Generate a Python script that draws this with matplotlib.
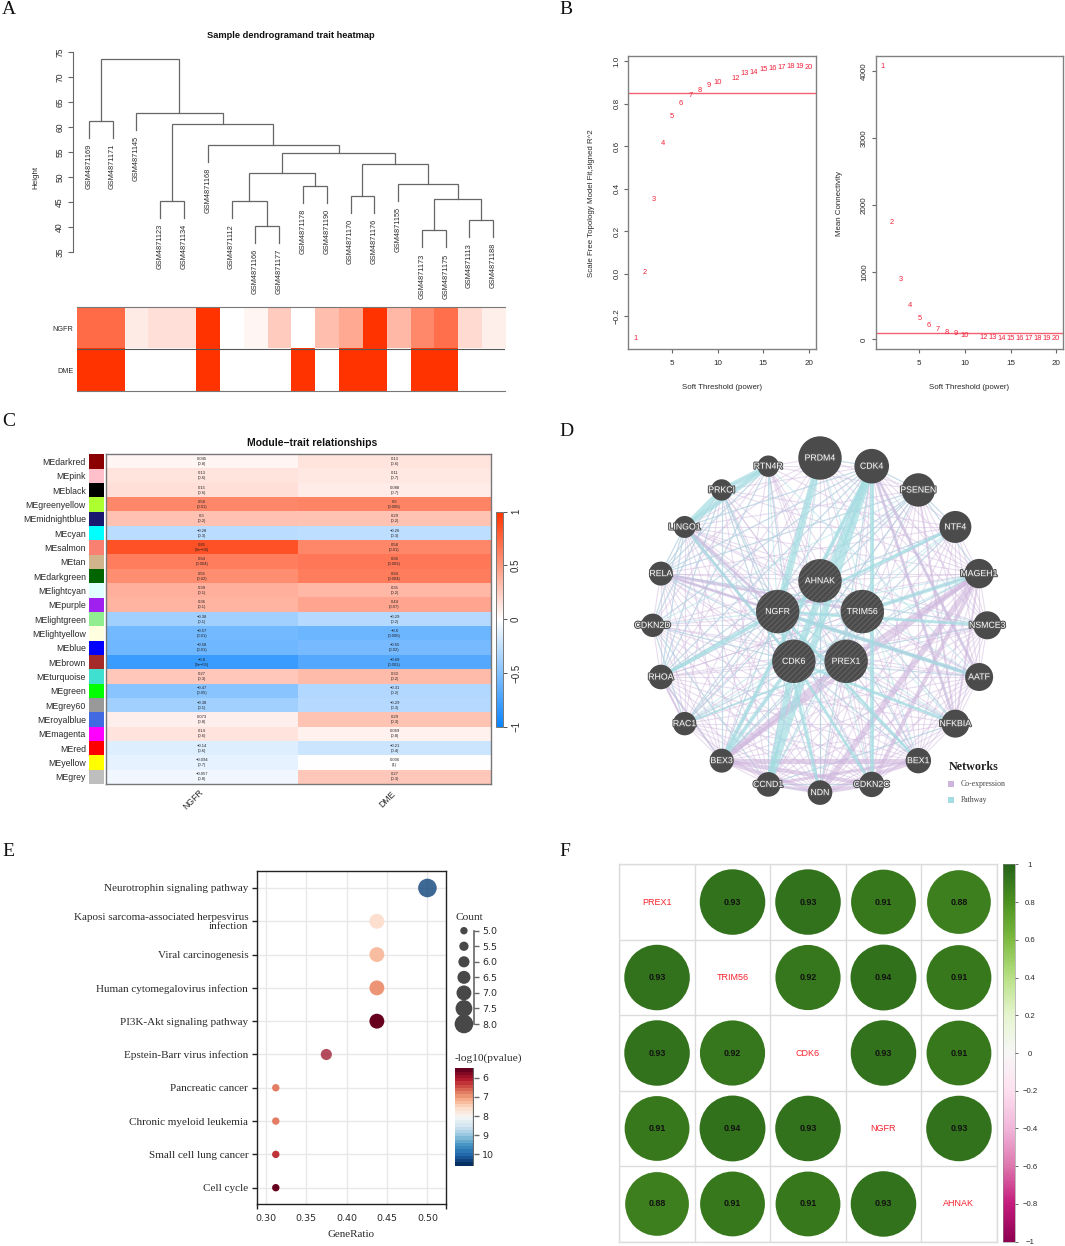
import numpy as np
import matplotlib
matplotlib.use("Agg")
import matplotlib.pyplot as plt
import matplotlib.patheffects as pe
from matplotlib.colors import LinearSegmentedColormap, Normalize
from matplotlib.cm import ScalarMappable
from matplotlib.patches import Circle

plt.rcParams['font.family'] = ['Liberation Sans', 'DejaVu Sans']
plt.rcParams['hatch.linewidth'] = 0.6

W, H = 1065, 1246
SERIF = 'Liberation Serif'
DARK = '#2a2a2a'

# --- A: dendrogram
leaf_names = ["GSM4871169", "GSM4871171", "GSM4871145", "GSM4871123", "GSM4871134", "GSM4871168",
              "GSM4871112", "GSM4871166", "GSM4871177", "GSM4871178", "GSM4871190", "GSM4871170",
              "GSM4871176", "GSM4871155", "GSM4871173", "GSM4871175", "GSM4871113", "GSM4871188"]
# ids below 18 are leaves, 18 and up are earlier merges
merge_left = [0, 3, 7, 6, 9, 21, 11, 14, 16, 25, 13, 24, 23, 5, 19, 2, 18]
merge_right = [1, 4, 8, 20, 10, 22, 12, 15, 17, 26, 27, 28, 29, 30, 31, 32, 33]
merge_height = [61.3, 45.3, 40.3, 45.3, 48.3, 50.9, 46.3, 39.4, 41.5, 45.7, 48.7, 52.7, 54.9, 56.5, 60.6, 62.9, 73.5]
leaf_hang = 3.4
trait_names = ["NGFR", "DME"]
ngfr_trait = [0.72, 0.72, 0.10, 0.16, 0.16, 1.0, 0.0, 0.05, 0.25, 0.0, 0.32, 0.42, 1.0, 0.35, 0.58, 0.70, 0.18, 0.08]
dme_trait = [1, 1, 0, 0, 0, 1, 0, 0, 0, 1, 0, 1, 1, 0, 1, 1, 0, 0]

# --- B: soft threshold
powers = [1, 2, 3, 4, 5, 6, 7, 8, 9, 10, 12, 13, 14, 15, 16, 17, 18, 19, 20]
fit_r2 = [-0.307, 0.006, 0.35, 0.61, 0.738, 0.80, 0.837, 0.86, 0.887, 0.898, 0.92, 0.94, 0.948, 0.959, 0.965, 0.97, 0.973, 0.975, 0.97]
mean_conn = [4070, 1741, 895, 512, 318, 209, 144, 104, 80, 55, 30, 25, 15, 15, 15, 10, 10, 10, 5]
fit_cut = 0.85
conn_cut = 100

# --- C: module-trait
module_names = ["MEdarkred", "MEpink", "MEblack", "MEgreenyellow", "MEmidnightblue", "MEcyan", "MEsalmon", "MEtan",
                "MEdarkgreen", "MElightcyan", "MEpurple", "MElightgreen", "MElightyellow", "MEblue", "MEbrown",
                "MEturquoise", "MEgreen", "MEgrey60", "MEroyalblue", "MEmagenta", "MEred", "MEyellow", "MEgrey"]
module_colors = ["#8b0000", "#ffc0cb", "#000000", "#adff2f", "#191970", "#00ffff", "#fa8072", "#d2b48c",
                 "#006400", "#e0ffff", "#a020f0", "#90ee90", "#ffffe0", "#0000ff", "#a52a2a",
                 "#40e0d0", "#00ff00", "#999999", "#4169e1", "#ff00ff", "#ff0000", "#ffff00", "#bebebe"]
ngfr_cor = [0.045, 0.13, 0.15, 0.58, 0.3, -0.28, 0.85, 0.64, 0.55, 0.39, 0.36, -0.38, -0.57, -0.58, -0.8,
            0.27, -0.47, -0.38, 0.073, 0.14, -0.14, -0.094, -0.057]
ngfr_p = ["0.8", "0.6", "0.6", "0.01", "0.2", "0.3", "9e-06", "0.004", "0.02", "0.1", "0.1", "0.1", "0.01", "0.01", "9e-05",
          "0.3", "0.05", "0.1", "0.8", "0.6", "0.6", "0.7", "0.8"]
dme_cor = [0.13, 0.11, 0.088, 0.6, 0.29, -0.26, 0.58, 0.66, 0.64, 0.35, 0.44, -0.29, -0.6, -0.55, -0.69,
           0.33, -0.31, -0.29, 0.29, 0.069, -0.21, 0.006, 0.27]
dme_p = ["0.6", "0.7", "0.7", "0.006", "0.2", "0.3", "0.01", "0.003", "0.004", "0.2", "0.07", "0.2", "0.006", "0.02", "0.002",
         "0.2", "0.2", "0.3", "0.3", "0.8", "0.4", "1", "0.3"]

# --- D: network, both rings clockwise from the top
outer_nodes = ["PRDM4", "CDK4", "PSENEN", "NTF4", "MAGEH1", "NSMCE3", "AATF", "NFKBIA", "BEX1", "CDKN2C",
               "NDN", "CCND1", "BEX3", "RAC1", "RHOA", "CDKN2D", "RELA", "LINGO1", "PRKCI", "RTN4R"]
outer_score = [21.7, 17.3, 16.7, 16, 14.7, 14, 14, 14, 12.7, 12.7, 12.3, 12.3, 12, 11.7, 12.3, 11.7, 12, 11, 10.7, 10.7]
inner_nodes = ["AHNAK", "TRIM56", "PREX1", "CDK6", "NGFR"]
inner_score = [21.7, 21.7, 21.7, 21.7, 21.7]
coexp_thin = {
    "PRDM4": "RTN4R CDK4 PSENEN MAGEH1 NFKBIA BEX3 RELA RHOA NDN AATF TRIM56 LINGO1 CDKN2C CCND1 NSMCE3 RAC1",
    "CDK4": "RTN4R PRKCI PSENEN NTF4 MAGEH1 NSMCE3 BEX1 NDN BEX3 RAC1 RELA CDKN2D AHNAK TRIM56 RHOA LINGO1 PREX1",
    "PSENEN": "MAGEH1 NSMCE3 AATF BEX1 CDKN2C NGFR RELA RHOA LINGO1 RTN4R BEX3 NDN NTF4 CCND1 RAC1 CDK6 PREX1",
    "NTF4": "MAGEH1 AATF NFKBIA RELA LINGO1 RHOA BEX3 NDN NSMCE3 BEX1 CDKN2C CCND1 PRKCI AHNAK",
    "MAGEH1": "NSMCE3 AATF BEX1 RELA RHOA CDKN2D CCND1 RAC1 TRIM56 AHNAK LINGO1 PRKCI RTN4R",
    "NSMCE3": "AATF NFKBIA BEX1 NDN BEX3 RELA CDKN2D RHOA CDKN2C CCND1 RAC1 LINGO1 PREX1 CDK6",
    "AATF": "NFKBIA BEX1 CDKN2C RELA CDKN2D RHOA RAC1 BEX3 CDK6 NDN CCND1 TRIM56 PREX1 LINGO1",
    "NFKBIA": "BEX1 CDKN2C RELA CDKN2D RHOA NDN BEX3 LINGO1 CCND1 RAC1 PREX1 TRIM56",
    "BEX1": "RAC1 RHOA CDKN2D RELA LINGO1 PRKCI RTN4R CDK6 PREX1 AHNAK TRIM56",
    "CDKN2C": "RAC1 RHOA CDKN2D RELA PRKCI TRIM56 NGFR CCND1 LINGO1 RTN4R PREX1",
    "NDN": "RAC1 RHOA CDKN2D RELA LINGO1 PREX1 AHNAK PRKCI RTN4R TRIM56",
    "CCND1": "RHOA RAC1 CDKN2D RELA LINGO1 RTN4R PREX1 BEX3 PRKCI AHNAK",
    "BEX3": "RAC1 CDKN2D RELA LINGO1 PRKCI NGFR AHNAK TRIM56 RTN4R",
    "RAC1": "RHOA CDKN2D RELA LINGO1 PRKCI TRIM56 PREX1 AHNAK NGFR",
    "RHOA": "CDKN2D RELA LINGO1 RTN4R TRIM56 PREX1 PRKCI AHNAK CDK6",
    "CDKN2D": "RELA LINGO1 PRKCI RTN4R TRIM56 PREX1 AHNAK CDK6",
    "RELA": "LINGO1 PRKCI RTN4R CDK6 PREX1 AHNAK",
    "LINGO1": "RTN4R AHNAK TRIM56 PREX1",
    "PRKCI": "RTN4R TRIM56 NGFR CDK6 PREX1",
    "RTN4R": "AHNAK TRIM56 CDK6 PREX1",
}
pathway_thin = {
    "RTN4R": "CDK6 NGFR CCND1 RELA RHOA AATF",
    "PRKCI": "NDN CDK6 RELA BEX3 NGFR RHOA CDKN2D",
    "LINGO1": "RHOA RELA CDKN2D NGFR CDK4 BEX1",
    "RELA": "NFKBIA CDK4 NGFR TRIM56 PSENEN NSMCE3",
    "CDKN2D": "CDK4 CCND1 NGFR CDK6 PSENEN RAC1",
    "RHOA": "CDK4 NTF4 NGFR PSENEN BEX3 AHNAK",
    "RAC1": "CDK4 CDK6 NGFR NTF4 PSENEN MAGEH1",
    "BEX3": "CDK4 NGFR TRIM56 NTF4",
    "CCND1": "NDN TRIM56 PSENEN NFKBIA AHNAK",
    "NDN": "CDK4 CDK6 NGFR AHNAK",
    "CDKN2C": "CDK4 CDK6 CCND1 NGFR AHNAK",
    "BEX1": "NGFR PRDM4 CDK6 AHNAK",
    "NFKBIA": "NGFR CDK4 CDK6 TRIM56 AHNAK",
    "AATF": "NGFR CDK4 AHNAK CDK6",
    "NSMCE3": "NGFR AHNAK CDK6",
    "MAGEH1": "CDK6 NGFR PSENEN",
    "NTF4": "NGFR CDK6 PSENEN AHNAK",
    "PSENEN": "CDK4 NGFR CDK6",
    "PRDM4": "CDK6 CDK4 NGFR",
}
coexp_thick = [("MAGEH1", "NDN", 6), ("MAGEH1", "CDKN2C", 4), ("MAGEH1", "BEX3", 4), ("MAGEH1", "PREX1", 5),
               ("PREX1", "BEX3", 6), ("BEX3", "BEX1", 5), ("BEX3", "CDKN2C", 4), ("BEX3", "NDN", 4),
               ("BEX1", "CCND1", 3), ("BEX1", "NDN", 4), ("CCND1", "NDN", 3), ("NDN", "CDKN2C", 4),
               ("CDK4", "AATF", 3), ("CDK4", "NFKBIA", 3), ("PSENEN", "NFKBIA", 2), ("MAGEH1", "NFKBIA", 2),
               ("NGFR", "AATF", 3), ("RELA", "NGFR", 3), ("RELA", "TRIM56", 3), ("LINGO1", "NGFR", 3),
               ("LINGO1", "CDK6", 2), ("RHOA", "BEX3", 2), ("RAC1", "RHOA", 2)]
pathway_thick = [("CDK4", "CCND1", 7), ("CDK4", "CDK6", 7), ("CCND1", "CDK6", 6), ("RTN4R", "LINGO1", 5),
                 ("RTN4R", "PRKCI", 5), ("LINGO1", "PRKCI", 5), ("PRDM4", "NGFR", 7), ("NTF4", "NGFR", 3),
                 ("CDK4", "CDKN2C", 4), ("CDKN2C", "CDK6", 3), ("TRIM56", "MAGEH1", 4), ("NSMCE3", "NGFR", 3),
                 ("AATF", "NGFR", 4), ("BEX1", "NGFR", 3), ("RHOA", "NGFR", 4), ("LINGO1", "CDK6", 3),
                 ("BEX3", "CDK6", 4), ("NDN", "NGFR", 3), ("BEX3", "CDK4", 4), ("RAC1", "PREX1", 2),
                 ("NFKBIA", "CDK6", 3)]

# --- E: enrichment
pathways = ["Neurotrophin signaling pathway", "Kaposi sarcoma-associated herpesvirus\ninfection", "Viral carcinogenesis",
            "Human cytomegalovirus infection", "PI3K-Akt signaling pathway", "Epstein-Barr virus infection",
            "Pancreatic cancer", "Chronic myeloid leukemia", "Small cell lung cancer", "Cell cycle"]
gene_ratio = [0.5, 0.4375, 0.4375, 0.4375, 0.4375, 0.375, 0.3125, 0.3125, 0.3125, 0.3125]
gene_count = [8, 7, 7, 7, 7, 6, 5, 5, 5, 5]
neg_log_p = [10.4, 7.6, 7.35, 7.0, 5.55, 6.0, 6.7, 6.7, 6.3, 5.55]
dot_alpha = [0.8, 1, 1, 1, 1, 0.75, 1, 1, 1, 1]
count_ticks = [5.0, 5.5, 6.0, 6.5, 7.0, 7.5, 8.0]

# --- F: correlation
corr_genes = ["PREX1", "TRIM56", "CDK6", "NGFR", "AHNAK"]
corr_values = [[1.00, 0.93, 0.93, 0.91, 0.88],
               [0.93, 1.00, 0.92, 0.94, 0.91],
               [0.93, 0.92, 1.00, 0.93, 0.91],
               [0.91, 0.94, 0.93, 1.00, 0.93],
               [0.88, 0.91, 0.91, 0.93, 1.00]]

fig = plt.figure(figsize=(W / 100, H / 100), dpi=100)


def px_axes(x0, y0, x1, y1):
    return fig.add_axes([x0 / W, 1 - y1 / H, (x1 - x0) / W, (y1 - y0) / H])


def ftext(x, y, s, **kw):
    kw.setdefault('ha', 'center')
    kw.setdefault('va', 'center')
    return fig.text(x / W, 1 - y / H, s, **kw)


def label_at(axis, x, y):
    axis.set_label_coords(x / W, 1 - y / H, transform=fig.transFigure)


for letter, x, y in [("A", 2, 9), ("B", 559, 9), ("C", 2, 421), ("D", 559, 431), ("E", 2, 851), ("F", 559, 851)]:
    ftext(x, y, letter, ha='left', family=SERIF, fontsize=14, color='#111111')

# ---------- A
ax = px_axes(76.8, 52, 505.2, 252)
n_leaf = len(leaf_names)
xpos = {i: i + 0.5 for i in range(n_leaf)}
ypos = {}
for m, (l, r, h) in enumerate(zip(merge_left, merge_right, merge_height)):
    yl = ypos[l] if l >= n_leaf else h - leaf_hang
    yr = ypos[r] if r >= n_leaf else h - leaf_hang
    ax.plot([xpos[l], xpos[l], xpos[r], xpos[r]], [yl, h, h, yr], color='#666666', lw=0.9,
            solid_joinstyle='miter', clip_on=False)
    for c, yc in ((l, yl), (r, yr)):
        if c < n_leaf:
            ax.text(xpos[c], yc - 1.3, leaf_names[c], rotation=90, ha='center', va='top', fontsize=5.3, color=DARK)
    xpos[n_leaf + m] = (xpos[l] + xpos[r]) / 2
    ypos[n_leaf + m] = h
ax.set_xlim(0, n_leaf)
ax.set_ylim(35, 75)
for s in ['top', 'right', 'bottom']:
    ax.spines[s].set_visible(False)
ax.spines['left'].set_position(('outward', 3))
ax.spines['left'].set_color('#666666')
ax.set_xticks([])
ax.set_yticks(range(35, 80, 5))
ax.tick_params(axis='y', labelsize=6.2, length=3.6, width=0.8, color='#666666', labelcolor=DARK, pad=2.5)
for t in ax.get_yticklabels():
    t.set_rotation(90)
    t.set_va('center')
ax.set_ylabel("Height", fontsize=5.8, color=DARK)
label_at(ax.yaxis, 39.6, 177)
ftext(291, 36, "Sample dendrogramand trait heatmap", fontsize=6.7, fontweight='bold', color='#111111')

trait_cmap = LinearSegmentedColormap.from_list("trait", ["#ffffff", "#ff3300"])
ax = px_axes(76.8, 307.3, 505.2, 391.3)
ax.imshow([ngfr_trait, dme_trait], aspect='auto', cmap=trait_cmap, vmin=0, vmax=1, interpolation='nearest')
ax.axhline(0.5, color='#555555', lw=0.8)
ax.set_xticks([])
ax.set_yticks(range(2))
ax.set_yticklabels(trait_names)
ax.tick_params(axis='y', length=0, labelsize=5.2, labelcolor=DARK, pad=2.5)
for s in ['left', 'right']:
    ax.spines[s].set_visible(False)
for s in ['top', 'bottom']:
    ax.spines[s].set_color('#777777')
    ax.spines[s].set_linewidth(0.8)

# ---------- B
RED = '#f0203a'
bbox_b = [(628.3, 55.7, 816, 349.3), (875.7, 55.7, 1063.3, 349.3)]
series_b = [fit_r2, mean_conn]
ylims_b = [(-0.356, 1.025), (-149, 4234)]
cuts_b = [fit_cut, conn_cut]
yticks_b = [[-0.2, 0.0, 0.2, 0.4, 0.6, 0.8, 1.0], [0, 1000, 2000, 3000, 4000]]
ylabels_b = ["Scale Free Topology Model Fit,signed R^2", "Mean Connectivity"]
ylab_x = [595, 842.7]
xlab_x = [722.3, 969.3]
for k in range(2):
    ax = px_axes(*bbox_b[k])
    for p, v in zip(powers, series_b[k]):
        ax.text(p, v, str(p), color=RED, fontsize=5.4, ha='center', va='center')
    ax.axhline(cuts_b[k], color='#f4606e', lw=1.0)
    ax.set_xlim(0.22, 20.77)
    ax.set_ylim(*ylims_b[k])
    ax.set_xticks([5, 10, 15, 20])
    ax.set_yticks(yticks_b[k])
    ax.tick_params(axis='both', labelsize=5.8, length=3, width=0.8, color='#666666', labelcolor=DARK)
    ax.tick_params(axis='x', pad=4.5)
    ax.tick_params(axis='y', pad=2.5)
    for t in ax.get_yticklabels():
        t.set_rotation(90)
        t.set_va('center')
    for s in ax.spines.values():
        s.set_color('#808080')
        s.set_linewidth(1.0)
    ax.set_xlabel("Soft Threshold (power)", fontsize=5.7, color=DARK)
    ax.set_ylabel(ylabels_b[k], fontsize=5.7, color=DARK)
    label_at(ax.xaxis, xlab_x[k], 383.7)
    label_at(ax.yaxis, ylab_x[k], 203)

# ---------- C
cor_cmap = LinearSegmentedColormap.from_list("cor", ["#0a84ff", "#ffffff", "#ff3300"])
ax = px_axes(106, 454.3, 490.7, 784)
cor = np.array([ngfr_cor, dme_cor]).T
im = ax.imshow(cor, aspect='auto', cmap=cor_cmap, vmin=-1, vmax=1, interpolation='nearest')
for i in range(len(module_names)):
    for j, (cc, pp) in enumerate(((ngfr_cor, ngfr_p), (dme_cor, dme_p))):
        s = f"{cc[i]}\n({pp[i]})".replace("-", "\u2212")
        ax.text(j, i, s, ha='center', va='center', fontsize=3.0, color='#222222', linespacing=1.25)
ax.set_xticks([])
ax.set_yticks([])
for s in ax.spines.values():
    s.set_color('#777777')
    s.set_linewidth(1.0)
ftext(193, 800, "NGFR", rotation=45, fontsize=6.2, color=DARK)
ftext(387, 799, "DME", rotation=45, fontsize=6.2, color=DARK)
ftext(312, 443.5, "Module\u2212trait relationships", fontsize=7.5, fontweight='bold', color='#111111')

ax = px_axes(88.7, 454.3, 104, 784)
ax.barh(range(len(module_names)), 1, height=1, color=module_colors)
ax.set_xlim(0, 1)
ax.set_ylim(len(module_names) - 0.5, -0.5)
ax.set_xticks([])
ax.set_yticks(range(len(module_names)))
ax.set_yticklabels(module_names)
ax.tick_params(axis='y', length=0, labelsize=6.3, labelcolor=DARK, pad=2)
for s in ax.spines.values():
    s.set_visible(False)

cax = px_axes(495.7, 511.7, 502.7, 726.7)
cb = fig.colorbar(im, cax=cax, ticks=[-1, -0.5, 0, 0.5, 1])
cb.outline.set_edgecolor('#777777')
cb.outline.set_linewidth(0.7)
cax.set_yticklabels(["\u22121", "\u22120.5", "0", "0.5", "1"])
cax.tick_params(labelsize=7, length=3, width=0.7, color='#555555', labelcolor=DARK, pad=3)
for t in cax.get_yticklabels():
    t.set_rotation(90)
    t.set_va('center')

# ---------- D
ax = px_axes(630, 430, 1045, 830)
cx, cy = 820, 625.3
ax.set_xlim(630 - cx, 1045 - cx)
ax.set_ylim(cy - 830, cy - 430)
ax.axis('off')
node_xy = {}
for names, radius in ((outer_nodes, 167.3), (inner_nodes, 44.5)):
    for i, name in enumerate(names):
        a = 2 * np.pi * i / len(names)
        node_xy[name] = (radius * np.sin(a), radius * np.cos(a))
PURPLE = '#cdb4dc'
TEAL = '#a3dde2'


def edge(a, b, color, width, alpha):
    ax.plot([node_xy[a][0], node_xy[b][0]], [node_xy[a][1], node_xy[b][1]], color=color, lw=width,
            alpha=alpha, solid_capstyle='butt', zorder=1)


for a, others in coexp_thin.items():
    for b in others.split():
        edge(a, b, PURPLE, 0.8, 0.45)
for a, others in pathway_thin.items():
    for b in others.split():
        edge(a, b, TEAL, 0.8, 0.5)
for a, b, w in coexp_thick:
    edge(a, b, PURPLE, w * 0.72, 0.6)
for a, b, w in pathway_thick:
    edge(a, b, TEAL, w * 0.72, 0.7)
halo = [pe.withStroke(linewidth=1.6, foreground='#555555')]
for names, sizes, hatch in ((outer_nodes, outer_score, None), (inner_nodes, inner_score, '//////')):
    for name, r in zip(names, sizes):
        ax.add_patch(Circle(node_xy[name], r, facecolor='#4b4b4b', edgecolor='#686868' if hatch else '#4b4b4b',
                            hatch=hatch, lw=0, zorder=3))
        ax.text(*node_xy[name], name, color='white', fontsize=6.3, ha='center', va='center', zorder=4,
                path_effects=halo)
ftext(974, 767, "Networks", family=SERIF, fontweight='bold', fontsize=8.7, color='#222222')
for label, color, y in (("Co-expression", PURPLE, 783.7), ("Pathway", TEAL, 800.3)):
    ax.scatter([950.7 - cx], [cy - y], marker='s', s=17, color=color, lw=0, zorder=5)
    ftext(960.7, y, label, ha='left', family=SERIF, fontsize=5.6, color='#444444')

# ---------- E
rd_bu = plt.get_cmap('RdBu', 30)
p_norm = Normalize(5.5, 10.6)
LEG_FONT = 'DejaVu Sans'


def dot_area(c):
    # radius grows linearly from 3.7 px at 5 to 9.3 px at 8
    r = 3.7 + (np.asarray(c, dtype=float) - 5) * 1.87
    return (2 * r * 0.72) ** 2


ax = px_axes(256.7, 871, 445.7, 1204)
ys = list(range(len(pathways)))
ax.scatter(gene_ratio, ys, s=dot_area(gene_count), c=neg_log_p, cmap=rd_bu, norm=p_norm, alpha=dot_alpha, lw=0, zorder=3)
ax.set_xlim(0.2889, 0.5226)
ax.set_ylim(len(pathways) - 1 + 0.49, -0.51)
ax.set_yticks(ys)
ax.set_yticklabels(pathways, family=SERIF, linespacing=0.95)
ax.set_xticks([0.30, 0.35, 0.40, 0.45, 0.50])
ax.set_xticklabels(["0.30", "0.35", "0.40", "0.45", "0.50"], family=LEG_FONT)
ax.set_xticks([0.2889, 0.5226], minor=True)
ax.grid(True, color='#e8e8e8', lw=1.0, zorder=0)
ax.set_axisbelow(True)
ax.tick_params(axis='y', labelsize=8.0, length=3.7, width=1, color='#222222', labelcolor=DARK, pad=2.4)
ax.tick_params(axis='x', which='major', labelsize=6.8, length=0, labelcolor=DARK, pad=7.5)
ax.tick_params(axis='x', which='minor', length=3.8, width=1, color='#222222')
for s in ax.spines.values():
    s.set_color('#222222')
    s.set_linewidth(1.0)
ax.set_xlabel("GeneRatio", family=SERIF, fontsize=7.9, color=DARK)
label_at(ax.xaxis, 350.7, 1230)

ax = px_axes(455, 930.7, 474, 1024)
ax.scatter([0.47] * len(count_ticks), count_ticks, s=dot_area(count_ticks), color='#484848', lw=0, clip_on=False, zorder=3)
ax.set_xlim(0, 1)
ax.set_ylim(8, 5)
ax.set_xticks([])
ax.yaxis.tick_right()
ax.set_yticks(count_ticks)
ax.set_yticklabels([f"{c:.1f}" for c in count_ticks], family=LEG_FONT)
ax.tick_params(axis='y', labelsize=6.8, length=3.8, width=1, color='#666666', labelcolor=DARK, pad=2)
for s in ['left', 'top', 'bottom']:
    ax.spines[s].set_visible(False)
ax.spines['right'].set_color('#666666')
ax.spines['right'].set_linewidth(1.2)
ftext(455, 917.5, "Count", ha='left', family=SERIF, fontsize=8.2, color=DARK)

cax = px_axes(455, 1068.3, 474, 1165.7)
cb = fig.colorbar(ScalarMappable(norm=p_norm, cmap=rd_bu), cax=cax, ticks=[6, 7, 8, 9, 10])
cax.invert_yaxis()
cb.outline.set_visible(False)
cax.axvline(cax.get_xlim()[1], color='#666666', lw=1.6)
cax.set_yticklabels(["6", "7", "8", "9", "10"], family=LEG_FONT)
cax.tick_params(labelsize=6.8, length=3.8, width=1, color='#666666', labelcolor=DARK, pad=2)
ftext(455, 1058.3, "-log10(pvalue)", ha='left', family=SERIF, fontsize=8.2, color=DARK)

# ---------- F
ax = px_axes(619.3, 864.3, 996.7, 1241.7)
pi_yg = plt.get_cmap('PiYG')
corr_norm = Normalize(-1, 1)
n = len(corr_genes)
for i in range(n):
    for j in range(n):
        if i == j:
            ax.text(j + 0.5, i + 0.5, corr_genes[i], color='#f5222d', fontsize=6.5, ha='center', va='center')
            continue
        c = corr_values[i][j]
        ax.add_patch(Circle((j + 0.5, i + 0.5), 0.45 * np.sqrt(c), facecolor=pi_yg(corr_norm(c)), lw=0, zorder=2))
        ax.text(j + 0.5, i + 0.5, f"{c:.2f}", color='#111111', fontsize=6.4, fontweight='bold', ha='center', va='center', zorder=3)
ax.set_xlim(0, n)
ax.set_ylim(n, 0)
ax.set_xticks(range(n + 1))
ax.set_yticks(range(n + 1))
ax.grid(True, color='#dcdcdc', lw=1.0)
ax.set_axisbelow(True)
ax.tick_params(length=0, labelbottom=False, labelleft=False)
for s in ax.spines.values():
    s.set_color('#dcdcdc')
    s.set_linewidth(1.0)

cax = px_axes(1003, 864.3, 1015.3, 1241.7)
corr_ticks = [-1, -0.8, -0.6, -0.4, -0.2, 0, 0.2, 0.4, 0.6, 0.8, 1]
cb = fig.colorbar(ScalarMappable(norm=corr_norm, cmap=pi_yg), cax=cax, ticks=corr_ticks)
cb.outline.set_linewidth(0.4)
cb.outline.set_edgecolor('#888888')
cax.set_yticklabels([str(t).replace("-", "\u2212") for t in corr_ticks], ha='center')
cax.tick_params(labelsize=5.6, length=2, width=0.6, color='#555555', labelcolor=DARK, pad=8.6)

fig.savefig("out.png", dpi=100)
